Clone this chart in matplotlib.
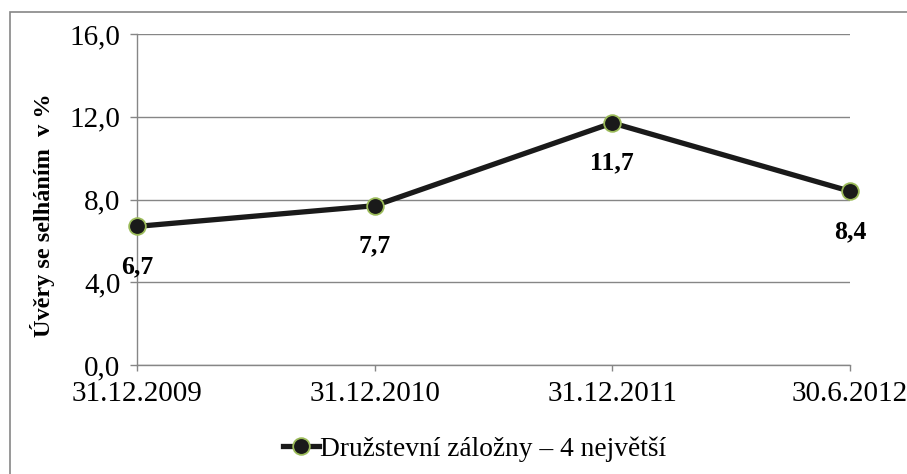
import matplotlib.pyplot as plt
from matplotlib.patches import Rectangle

# --- data ---
dates = ["31.12.2009", "31.12.2010", "31.12.2011", "30.6.2012"]
values = [6.7, 7.7, 11.7, 8.4]
labels = ["6,7", "7,7", "11,7", "8,4"]
yticks = [0, 4, 8, 12, 16]
series_name = "Družstevní záložny – 4 největší"

GRID = "#868686"
EDGE = "#9BBB59"

plt.rcParams["font.family"] = ["Liberation Serif", "DejaVu Serif"]

fig = plt.figure(figsize=(9.07, 4.74), dpi=100)
ax = fig.add_axes([137 / 907, 1 - 365 / 474, (850 - 137) / 907, (365 - 34) / 474])

# outer frame (runs off the right/bottom edge like the source)
fig.patches.append(Rectangle((10 / 907, -0.01), 1.0, 1 - 12 / 474 + 0.01,
                             transform=fig.transFigure, fill=False,
                             edgecolor=GRID, linewidth=1.2))

x = list(range(len(dates)))
ax.plot(x, values, color="#1a1a1a", linewidth=3.8, marker="o", markersize=12,
        markerfacecolor="#1a1a1a", markeredgecolor=EDGE, markeredgewidth=1.3,
        label=series_name, zorder=3, clip_on=False)

for xi, v, t in zip(x, values, labels):
    ax.annotate(t, (xi, v), xytext=(0, -29), textcoords="offset points",
                ha="center", va="center", fontsize=18.5, fontweight="bold")

ax.set_xlim(0, len(dates) - 1)
ax.set_ylim(0, 16)
ax.set_xticks(x)
ax.set_xticklabels(dates, fontsize=21)
ax.set_yticks(yticks)
ax.set_yticklabels([f"{v:.1f}".replace(".", ",") for v in yticks], fontsize=21)
ax.yaxis.grid(True, color=GRID, linewidth=1)
ax.set_axisbelow(True)
for s in ["top", "right"]:
    ax.spines[s].set_visible(False)
for s in ["left", "bottom"]:
    ax.spines[s].set_color(GRID)
    ax.spines[s].set_linewidth(1)
ax.tick_params(axis="x", color=GRID, length=4.5, width=1, pad=7)
ax.tick_params(axis="y", color=GRID, length=5, width=1, pad=7)
ax.set_ylabel("Úvěry se selháním  v %", fontsize=17.5, fontweight="bold")
ax.yaxis.set_label_coords(-0.115, 0.453)

fig.legend(loc="center", bbox_to_anchor=(475 / 907, 1 - 449 / 474), frameon=False,
           fontsize=19.7, handlelength=1.3, handletextpad=0.05)

fig.savefig("out.png", dpi=100)
